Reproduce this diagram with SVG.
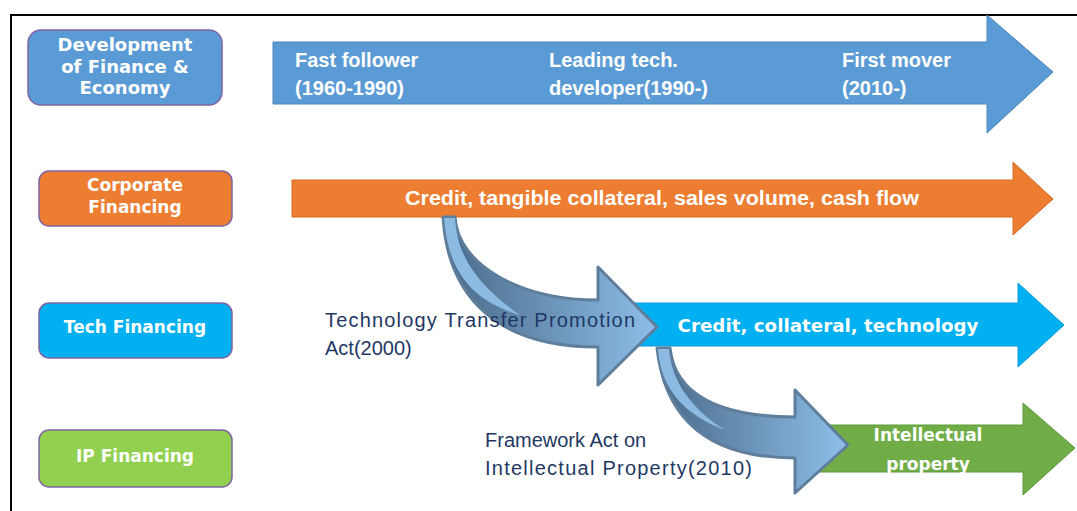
<svg xmlns="http://www.w3.org/2000/svg" width="1077" height="511" viewBox="0 0 1077 511">
<defs>
<style>
.box{stroke:#8064A2;stroke-width:1.5}
.bt{font-family:"DejaVu Sans",Verdana,sans-serif;font-weight:bold;fill:#fff;text-anchor:middle}
.at{font-family:"Liberation Sans",Arial,sans-serif;font-weight:bold;fill:#fff;font-size:20px}
.lt{font-family:"Liberation Sans",Arial,sans-serif;fill:#1F3864;font-size:20px}
.band{fill:#8DBAE2}
</style>
<linearGradient id="cg1" gradientUnits="userSpaceOnUse" x1="455" y1="0" x2="655" y2="0">
<stop offset="0" stop-color="#4D6E8D"/><stop offset="1" stop-color="#8DBDE8"/>
</linearGradient>
<linearGradient id="cg2" gradientUnits="userSpaceOnUse" x1="665" y1="0" x2="845" y2="0">
<stop offset="0" stop-color="#4D6E8D"/><stop offset="1" stop-color="#8DBDE8"/>
</linearGradient>
</defs>
<rect width="1077" height="511" fill="#fff"/>
<path d="M11 511 V15 H1077" fill="none" stroke="#000" stroke-width="2"/>

<g id="box-development">
<rect class="box" x="28" y="30" width="194" height="75" rx="13" fill="#5B9BD5"/>
<text class="bt" font-size="18" x="125" y="51">Development</text>
<text class="bt" font-size="18" x="125" y="73">of Finance &amp;</text>
<text class="bt" font-size="18" x="125" y="94">Economy</text>
</g>
<g id="box-corporate">
<rect class="box" x="39" y="171" width="193" height="55" rx="10" fill="#ED7D31"/>
<text class="bt" font-size="17" x="135" y="191">Corporate</text>
<text class="bt" font-size="17" x="135" y="213">Financing</text>
</g>
<g id="box-tech">
<rect class="box" x="39" y="303" width="193" height="55" rx="10" fill="#00B0F0"/>
<text class="bt" font-size="17" x="135" y="333">Tech Financing</text>
</g>
<g id="box-ip">
<rect class="box" x="39" y="430" width="193" height="57" rx="10" fill="#92D050"/>
<text class="bt" font-size="17" x="135" y="462">IP Financing</text>
</g>

<g id="arrow-economy">
<path d="M273 42 H987 V15 L1053 72 L987 133 V104 H273 Z" fill="#5B9BD5" stroke="#4A86BE" stroke-width="1"/>
<text class="at" x="295" y="67">Fast follower</text>
<text class="at" x="295" y="95">(1960-1990)</text>
<text class="at" x="549" y="67">Leading tech.</text>
<text class="at" x="549" y="95">developer(1990-)</text>
<text class="at" x="842" y="67">First mover</text>
<text class="at" x="842" y="95">(2010-)</text>
</g>
<g id="arrow-corporate">
<path d="M292 180 H1013 V162 L1053 199 L1013 235 V217 H292 Z" fill="#ED7D31" stroke="#D46A22" stroke-width="1"/>
<text class="at" x="662" y="205" text-anchor="middle" textLength="514" lengthAdjust="spacingAndGlyphs">Credit, tangible collateral, sales volume, cash flow</text>
</g>
<g id="arrow-tech">
<path d="M630 303 H1018 V283 L1064 325 L1018 367 V346 H630 Z" fill="#00B0F0" stroke="#0A9BD6" stroke-width="1"/>
<text class="bt" font-size="17" x="828" y="332" textLength="301" lengthAdjust="spacingAndGlyphs">Credit, collateral, technology</text>
</g>
<g id="arrow-ip">
<path d="M820 425 H1023 V403 L1075 448 L1023 495 V472 H820 Z" fill="#70AD47" stroke="#5E9A3A" stroke-width="1"/>
<text class="bt" font-size="17" x="928" y="441">Intellectual</text>
<text class="bt" font-size="17" x="928" y="470">property</text>
</g>

<g id="connectors">
<g id="curve-tech">
<path d="M443 217 L455 217 C458 265 520 300 598 300 L598 267 L657 327 L598 385 L598 347 C500 347 448 300 443 217 Z" fill="url(#cg1)" stroke="#5F7E9C" stroke-width="3" stroke-linejoin="round"/>
<path class="band" d="M444 218 L455 218 C457 250 470 280 520 315 C470 300 448 270 444 218 Z"/>
</g>
<g id="curve-ip">
<path d="M657 348 L670 348 C675 395 720 417 795 417 L795 390 L848 445 L795 493 L795 458 C710 458 665 420 657 348 Z" fill="url(#cg2)" stroke="#5F7E9C" stroke-width="3" stroke-linejoin="round"/>
<path class="band" d="M658 349 L669 349 C671 375 685 405 725 430 C685 415 661 390 658 349 Z"/>
</g>
</g>

<g id="labels">
<text class="lt" x="325" y="327" textLength="310" lengthAdjust="spacing">Technology Transfer Promotion</text>
<text class="lt" x="325" y="355">Act(2000)</text>
<text class="lt" x="485" y="447">Framework Act on</text>
<text class="lt" x="485" y="475" textLength="267" lengthAdjust="spacing">Intellectual Property(2010)</text>
</g>
</svg>
